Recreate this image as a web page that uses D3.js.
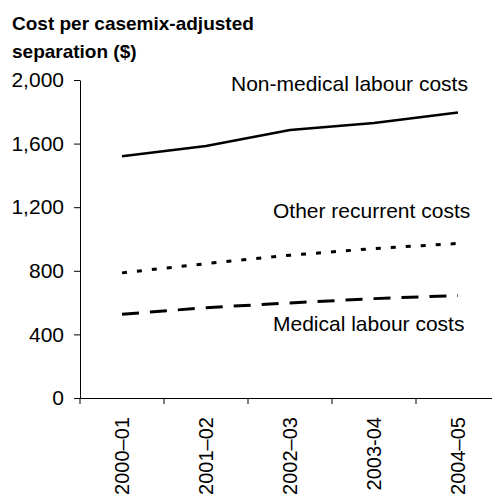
<!DOCTYPE html>
<html>
<head>
<meta charset="utf-8">
<script src="https://cdn.jsdelivr.net/npm/d3@7"></script>
<style>
  html, body { margin: 0; padding: 0; background: #fff; }
  svg { display: block; font-family: "Liberation Sans", Arial, Helvetica, sans-serif; }
</style>
</head>
<body>
<svg id="chart" width="492" height="495"></svg>
<script>
// ---- data ----
const categories = ["2000\u201301", "2001\u201302", "2002\u201303", "2003-04", "2004\u201305"];
const nonMedicalLabour = [1520, 1585, 1685, 1730, 1795];
const otherRecurrent = [787, 845, 898, 940, 972];
const medicalLabour = [527, 568, 598, 625, 645];
const yTicks = [0, 400, 800, 1200, 1600, 2000];
const titleLines = ["Cost per casemix-adjusted", "separation ($)"];
const seriesNames = ["Non-medical labour costs", "Other recurrent costs", "Medical labour costs"];

// ---- layout ----
const W = 492, H = 495;
const plot = { left: 80, right: 500, top: 80, bottom: 398 };
const labelFont = 21;
const xLabelFont = 20;

const svg = d3.select("#chart");

const x = d3.scaleBand().domain(categories).range([plot.left, plot.right]).padding(0);
const y = d3.scaleLinear().domain([0, 2000]).range([plot.bottom, plot.top]);
const cx = d => x(d) + x.bandwidth() / 2;

// title
svg.append("text")
  .attr("x", 12).attr("y", 30)
  .attr("font-size", 19).attr("font-weight", "bold").attr("fill", "#000")
  .selectAll("tspan").data(titleLines).join("tspan")
  .attr("x", 12).attr("dy", (d, i) => i === 0 ? 0 : 28)
  .text(d => d);

// y axis
const yAxis = svg.append("g")
  .attr("transform", `translate(${plot.left},0)`)
  .call(d3.axisLeft(y).tickValues(yTicks).tickFormat(d3.format(",")).tickSize(6).tickSizeOuter(0).tickPadding(10));
yAxis.selectAll("text").attr("font-size", labelFont).attr("fill", "#000").attr("font-family", null);
yAxis.selectAll("line, path").attr("stroke", "#000").attr("stroke-width", 1);

// x axis
const xAxis = svg.append("g")
  .attr("transform", `translate(0,${plot.bottom})`)
  .call(d3.axisBottom(x).tickSize(0).tickSizeOuter(0).tickPadding(0));
xAxis.selectAll("path").attr("stroke", "#000").attr("stroke-width", 1);
xAxis.selectAll(".tick text")
  .attr("font-size", xLabelFont).attr("fill", "#000").attr("font-family", null)
  .attr("transform", "rotate(-90)")
  .attr("text-anchor", "end")
  .attr("x", -19).attr("y", 0).attr("dy", "0.35em");
// boundary ticks between categories
const bounds = categories.map(d => x(d)).concat([x.range()[1]]);
xAxis.selectAll(".bound").data(bounds).join("line")
  .attr("class", "bound")
  .attr("x1", d => d).attr("x2", d => d)
  .attr("y1", 0).attr("y2", 6)
  .attr("stroke", "#000").attr("stroke-width", 1);

// lines
const line = d3.line().x((d, i) => cx(categories[i])).y(d => y(d));
const series = [
  { values: nonMedicalLabour, dash: null },
  { values: otherRecurrent, dash: "5,10" },
  { values: medicalLabour, dash: "17,11" }
];
svg.selectAll(".series").data(series).join("path")
  .attr("class", "series")
  .attr("d", d => line(d.values))
  .attr("fill", "none")
  .attr("stroke", "#000")
  .attr("stroke-width", (d, i) => i === 0 ? 2.5 : 3)
  .attr("stroke-dasharray", d => d.dash);

// series labels
const labelPos = [
  { x: 231, y: 91 },
  { x: 273, y: 218 },
  { x: 273, y: 331 }
];
svg.selectAll(".slabel").data(seriesNames).join("text")
  .attr("class", "slabel")
  .attr("x", (d, i) => labelPos[i].x).attr("y", (d, i) => labelPos[i].y)
  .attr("font-size", labelFont).attr("fill", "#000")
  .text(d => d);
</script>
</body>
</html>
